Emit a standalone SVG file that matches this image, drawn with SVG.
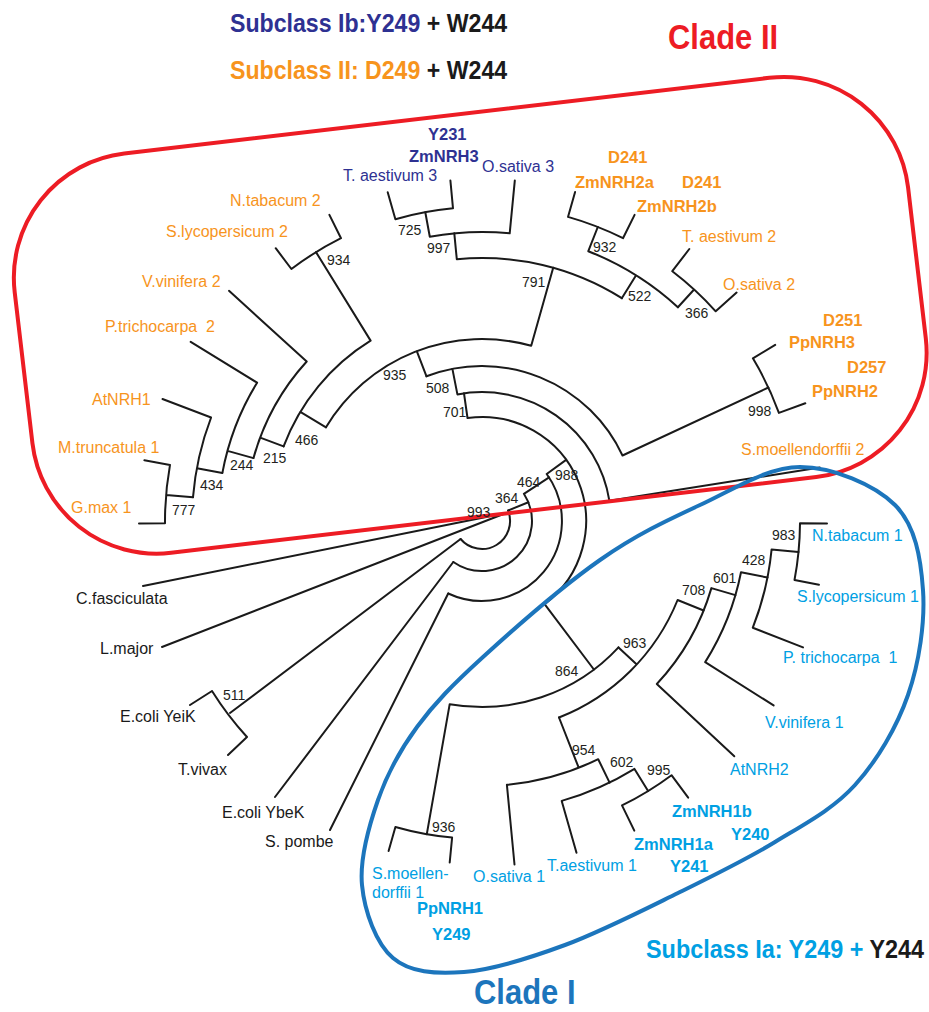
<svg xmlns="http://www.w3.org/2000/svg" width="929" height="1012" viewBox="0 0 929 1012">
<style>
text{font-family:"Liberation Sans",Arial,Helvetica,sans-serif}
.t{font-size:16px}
.n{font-size:14px;fill:#231f20}
.b{font-weight:bold;font-size:16.5px}
.h{font-weight:bold;font-size:26px}
.c{font-weight:bold;font-size:36px}
.or{fill:#f7941d}
.nv{fill:#2e3192}
.cy{fill:#00a0e3}
.bk{fill:#1a1a1a}
.br path{fill:none;stroke:#1a1a1a;stroke-width:2;stroke-linecap:round;stroke-linejoin:round}
.outline{fill:none;stroke-width:4}
</style>
<rect width="929" height="1012" fill="#ffffff"/>
<g id="connectors" class="br">
<path d="M508,510.5 A28 28 0 0 1 460.6,539 M508,510.5 L528.4,502.3"/>
<path d="M523.9,493.8 A50 50 0 0 1 453.3,562 M523.9,493.8 L549.1,477.4"/>
<path d="M546.7,474 A80 80 0 0 1 448.2,593.5 M546.7,474 L566.1,459.9"/>
<path d="M467.5,418 A104 104 0 0 1 544.6,604.1 M467.5,418 L464,393.3 M544.6,604.1 L593.9,669.5"/>
<path d="M143,586 L506,513 M162,647 L506,513"/>
<path d="M460.6,539 L230,713 M212,691 A319 319 0 0 0 247,737 M212,691 L190,705 M247,737 L228,755"/>
<path d="M453.3,562 L275,797 M448.2,593.5 L330,830"/>
<path d="M457.4,394.4 A129 129 0 0 1 609.4,500.8 M609.4,500.8 L819.8,467.5 M457.4,394.4 L452.4,368.9"/>
<path d="M426.5,376.3 A155 155 0 0 1 622.5,455.5 M622.5,455.5 L768.4,387.5"/>
<path d="M752.9,358.3 A316 316 0 0 1 778.9,412.9 M752.9,358.3 L775.2,344.9 M778.9,412.9 L805.3,403.3"/>
<path d="M426.5,376.3 L416.8,351.1 M326,427.3 A182 182 0 0 1 531.2,345.8 M531.2,345.8 L553.2,267.8"/>
<path d="M456.8,259.2 A263 263 0 0 1 621.8,298.2 M456.8,259.2 L454.3,233.3"/>
<path d="M429.8,236.8 A289 289 0 0 1 509.7,233.3 M509.7,233.3 L514.8,180.6 M429.8,236.8 L425.3,212.2"/>
<path d="M395.4,219.2 A314 314 0 0 1 453,208.3 M395.4,219.2 L387.7,192.3 M453,208.3 L450.4,180.5"/>
<path d="M621.8,298.2 L636.1,275.3 M588.3,251.2 A290 290 0 0 1 677.9,307.2 M588.3,251.2 L597.8,227"/>
<path d="M568,216.9 A316 316 0 0 1 623,238.2 M568,216.9 L575.1,191.9 M623,238.2 L634.6,214.9"/>
<path d="M677.9,307.2 L694.1,289.5 M672.3,271.2 A314 314 0 0 1 715.7,311.3 M672.3,271.2 L689.3,249 M715.7,311.3 L736.6,292.6"/>
<path d="M326,427.3 L300.3,411.8 M283.6,446.4 A212 212 0 0 1 370.6,340.6 M370.6,340.6 L316,252.1"/>
<path d="M291.4,269 A316 316 0 0 1 341,238.2 M291.4,269 L275.7,248.2 M341,238.2 L329.4,214.9"/>
<path d="M283.6,446.4 L260.2,437.6 M253.5,458.1 A237 237 0 0 1 306.7,361.5 M306.7,361.5 L229,290.8"/>
<path d="M253.5,458.1 L227.5,450.9 M222.4,472.9 A264 264 0 0 1 257.1,382.7 M257.1,382.7 L190.7,341.8"/>
<path d="M222.4,472.9 L196.9,468.2 M193,497.2 A290 290 0 0 1 211.1,417.5 M211.1,417.5 L162.5,399"/>
<path d="M193,497.2 L166.1,495 M165,523.2 A317 317 0 0 1 170,464.9 M165,523.2 L139,523.4 M170,464.9 L144.4,460.3"/>
<path d="M618.5,647.4 A186 186 0 0 1 449.7,704.2 M449.7,704.2 L426.8,834.2"/>
<path d="M452.1,837.6 A318 318 0 0 1 395.4,827 M452.1,837.6 L449.7,862.5 M395.4,827 L388.6,851"/>
<path d="M618.5,647.4 L636.8,664.4 M677.6,600 A211 211 0 0 1 559,717.5 M677.6,600 L703.6,610.5"/>
<path d="M711.4,588.1 A239 239 0 0 1 656.8,684 M656.8,684 L734.3,756.3 M711.4,588.1 L735.4,595.1"/>
<path d="M741,572.3 A264 264 0 0 1 705.2,662.1 M705.2,662.1 L773.6,705.4 M741,572.3 L767.5,577.5"/>
<path d="M771.6,549.4 A291 291 0 0 1 752.8,627.7 M752.8,627.7 L803,647.4 M771.6,549.4 L798.5,552"/>
<path d="M800,523.2 A318 318 0 0 1 794.5,580 M800,523.2 L827,523.4 M794.5,580 L819,584.7"/>
<path d="M559,717.5 L578.7,767.7 M598.2,759.2 A265 265 0 0 1 506.9,784.8 M506.9,784.8 L514.5,864.5 M598.2,759.2 L609.6,782.6"/>
<path d="M634.5,768.9 A291 291 0 0 1 561.7,800.9 M561.7,800.9 L576.5,852.8 M634.5,768.9 L648.1,791"/>
<path d="M671.5,775.2 A317 317 0 0 1 622,805.4 M671.5,775.2 L688.2,797.6 M622,805.4 L634.3,830.6"/>
</g>
<g id="clade-II-outline">
<rect class="outline" stroke="#ed1c24" x="-19.5" y="167" width="899.5" height="402" rx="125" ry="125" transform="rotate(-6.7)"/>
</g>
<g id="clade-I-outline">
<path class="outline" stroke="#1c75bc" d="M800,467 C832.5,467 874.5,484.5 895,505 C915.5,525.5 920.8,558.3 923,590 C925.2,621.7 919.3,662.5 908,695 C896.7,727.5 877.2,760.5 855,785 C832.8,809.5 804.5,824 775,842 C745.5,860 713,875.8 678,893 C643,910.2 600.7,931.8 565,945 C529.3,958.2 492.7,969.8 464,972 C435.3,974.2 410,972.5 393,958 C376,943.5 364.5,911.3 362,885 C359.5,858.7 368.8,826.3 378,800 C387.2,773.7 399.5,750.8 417,727 C434.5,703.2 452.5,684.8 483,657 C513.5,629.2 563.8,585.3 600,560 C636.2,534.7 666.7,520.5 700,505 C733.3,489.5 767.5,467 800,467 Z"/>
</g>
<g id="legend-subclass-Ib"><text class="h" transform="translate(230,32) scale(0.89,1)"><tspan class="nv">Subclass Ib:Y249</tspan><tspan class="bk"> + W244</tspan></text></g>
<g id="legend-subclass-II"><text class="h" transform="translate(230,79) scale(0.89,1)"><tspan class="or">Subclass II: D249</tspan><tspan class="bk"> + W244</tspan></text></g>
<g id="title-clade-II"><text class="c" fill="#ed1c24" transform="translate(668,49) scale(0.86,1)">Clade II</text></g>
<g id="title-clade-I"><text class="c" fill="#1c75bc" transform="translate(474,1004) scale(0.86,1)">Clade I</text></g>
<g id="legend-subclass-Ia"><text class="h" transform="translate(646,958) scale(0.9,1)"><tspan class="cy">Subclass Ia: Y249 +</tspan><tspan class="bk"> Y244</tspan></text></g>

<g id="N-tabacum-2"><text class="t or" x="230" y="206">N.tabacum 2</text></g>
<g id="S-lycopersicum-2"><text class="t or" x="166" y="237">S.lycopersicum 2</text></g>
<g id="V-vinifera-2"><text class="t or" x="142" y="287">V.vinifera 2</text></g>
<g id="P-trichocarpa-2"><text class="t or" x="105" y="332">P.trichocarpa&#160; 2</text></g>
<g id="AtNRH1"><text class="t or" x="92" y="405">AtNRH1</text></g>
<g id="M-truncatula-1"><text class="t or" x="58" y="453">M.truncatula 1</text></g>
<g id="G-max-1"><text class="t or" x="71" y="513">G.max 1</text></g>
<g id="T-aestivum-2"><text class="t or" x="682" y="242">T. aestivum 2</text></g>
<g id="O-sativa-2"><text class="t or" x="723" y="290">O.sativa 2</text></g>
<g id="S-moellendorffii-2"><text class="t or" x="741" y="455">S.moellendorffii 2</text></g>
<g id="T-aestivum-3"><text class="t nv" x="343" y="181">T. aestivum 3</text></g>
<g id="O-sativa-3"><text class="t nv" x="482" y="172">O.sativa 3</text></g>
<g id="ZmNRH3"><text class="b nv" x="428" y="140">Y231</text><text class="b nv" x="409" y="162">ZmNRH3</text></g>
<g id="ZmNRH2a"><text class="b or" x="608" y="163">D241</text><text class="b or" x="575" y="188">ZmNRH2a</text></g>
<g id="ZmNRH2b"><text class="b or" x="682" y="188">D241</text><text class="b or" x="637" y="212">ZmNRH2b</text></g>
<g id="PpNRH3"><text class="b or" x="823" y="326">D251</text><text class="b or" x="789" y="348">PpNRH3</text></g>
<g id="PpNRH2"><text class="b or" x="847" y="373">D257</text><text class="b or" x="812" y="397">PpNRH2</text></g>

<g id="N-tabacum-1"><text class="t cy" x="812" y="541">N.tabacum 1</text></g>
<g id="S-lycopersicum-1"><text class="t cy" x="797" y="602">S.lycopersicum 1</text></g>
<g id="P-trichocarpa-1"><text class="t cy" x="783" y="663">P. trichocarpa&#160; 1</text></g>
<g id="V-vinifera-1"><text class="t cy" x="765" y="728">V.vinifera 1</text></g>
<g id="AtNRH2"><text class="t cy" x="730" y="775">AtNRH2</text></g>
<g id="T-aestivum-1"><text class="t cy" x="547" y="871">T.aestivum 1</text></g>
<g id="O-sativa-1"><text class="t cy" x="473" y="882">O.sativa 1</text></g>
<g id="S-moellendorffii-1"><text class="t cy" x="372" y="879">S.moellen-</text><text class="t cy" x="372" y="898">dorffii 1</text></g>
<g id="ZmNRH1b"><text class="b cy" x="672" y="817">ZmNRH1b</text><text class="b cy" x="731" y="840">Y240</text></g>
<g id="ZmNRH1a"><text class="b cy" x="634" y="850">ZmNRH1a</text><text class="b cy" x="670" y="872">Y241</text></g>
<g id="PpNRH1"><text class="b cy" x="417" y="914">PpNRH1</text><text class="b cy" x="432" y="940">Y249</text></g>

<g id="C-fasciculata"><text class="t bk" x="76" y="604">C.fasciculata</text></g>
<g id="L-major"><text class="t bk" x="100" y="654">L.major</text></g>
<g id="E-coli-YeiK"><text class="t bk" x="120" y="722">E.coli YeiK</text></g>
<g id="T-vivax"><text class="t bk" x="178" y="775">T.vivax</text></g>
<g id="E-coli-YbeK"><text class="t bk" x="222" y="818">E.coli YbeK</text></g>
<g id="S-pombe"><text class="t bk" x="265" y="847">S. pombe</text></g>

<g id="bootstrap-values">
<g id="n934"><text class="n" x="327" y="265">934</text></g>
<g id="n725"><text class="n" x="398" y="235">725</text></g>
<g id="n997"><text class="n" x="427" y="253">997</text></g>
<g id="n791"><text class="n" x="522" y="287">791</text></g>
<g id="n932"><text class="n" x="593" y="252">932</text></g>
<g id="n522"><text class="n" x="628" y="301">522</text></g>
<g id="n366"><text class="n" x="685" y="318">366</text></g>
<g id="n935"><text class="n" x="383" y="380">935</text></g>
<g id="n508"><text class="n" x="426" y="393">508</text></g>
<g id="n701"><text class="n" x="443" y="417">701</text></g>
<g id="n998"><text class="n" x="748" y="416">998</text></g>
<g id="n466"><text class="n" x="295" y="445">466</text></g>
<g id="n215"><text class="n" x="263" y="463">215</text></g>
<g id="n244"><text class="n" x="230" y="470">244</text></g>
<g id="n434"><text class="n" x="200" y="490">434</text></g>
<g id="n777"><text class="n" x="172" y="515">777</text></g>
<g id="n993"><text class="n" x="467" y="517">993</text></g>
<g id="n364"><text class="n" x="495" y="503">364</text></g>
<g id="n464"><text class="n" x="517" y="487">464</text></g>
<g id="n988"><text class="n" x="555" y="480">988</text></g>
<g id="n511"><text class="n" x="223" y="700">511</text></g>
<g id="n983"><text class="n" x="772" y="540">983</text></g>
<g id="n428"><text class="n" x="742" y="565">428</text></g>
<g id="n601"><text class="n" x="713" y="583">601</text></g>
<g id="n708"><text class="n" x="682" y="595">708</text></g>
<g id="n963"><text class="n" x="623" y="648">963</text></g>
<g id="n864"><text class="n" x="555" y="676">864</text></g>
<g id="n954"><text class="n" x="572" y="755">954</text></g>
<g id="n602"><text class="n" x="610" y="767">602</text></g>
<g id="n995"><text class="n" x="647" y="775">995</text></g>
<g id="n936"><text class="n" x="432" y="832">936</text></g>
</g>
</svg>
